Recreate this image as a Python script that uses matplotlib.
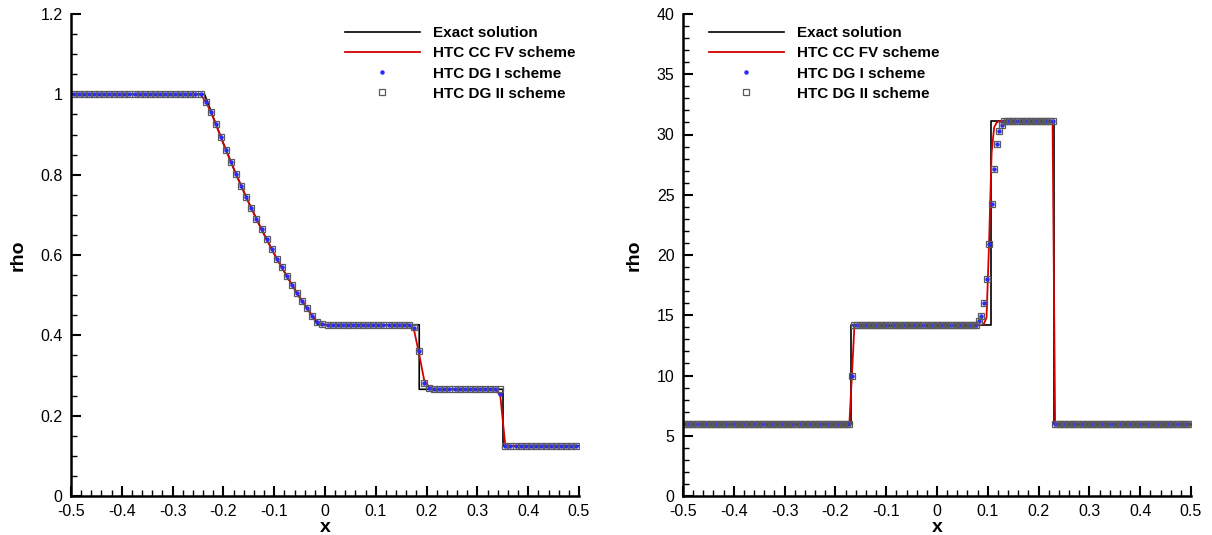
import numpy as np
import matplotlib
matplotlib.use("Agg")
import matplotlib.pyplot as plt
from matplotlib.ticker import MultipleLocator, FuncFormatter

plt.rcParams['font.family'] = ['Liberation Sans', 'DejaVu Sans']
plt.rcParams['axes.unicode_minus'] = False

# ---- left panel (Sod problem), 100 cells ----
x_left = np.round(np.arange(-0.495, 0.5, 0.01), 4)

rare_dg = [0.982, 0.957, 0.926, 0.894, 0.862, 0.831, 0.801, 0.772, 0.744, 0.716,
           0.690, 0.664, 0.639, 0.615, 0.591, 0.569, 0.547, 0.526, 0.505, 0.486,
           0.467, 0.449, 0.434, 0.428]
rho_dg1_left = np.concatenate([np.full(26, 1.0), rare_dg, np.full(17, 0.426),
                               [0.418, 0.361, 0.282, 0.268], np.full(13, 0.266),
                               [0.255], np.full(15, 0.125)])
rho_dg2_left = np.concatenate([np.full(26, 1.0), rare_dg, np.full(17, 0.426),
                               [0.420, 0.361, 0.282, 0.268], np.full(13, 0.266),
                               [0.266], np.full(15, 0.125)])
rho_fv_left = np.concatenate([np.full(26, 1.0), rare_dg, np.full(17, 0.426),
                              [0.415, 0.355, 0.290, 0.270], np.full(13, 0.266),
                              [0.250], np.full(15, 0.125)])

x_exact_left = [-0.5, -0.237, -0.225, -0.2, -0.175, -0.15, -0.125, -0.1, -0.075,
                -0.05, -0.025, -0.014, 0.1855, 0.1855, 0.3504, 0.3504, 0.5]
rho_exact_left = [1.0, 1.0, 0.960, 0.877, 0.801, 0.730, 0.664, 0.603, 0.547,
                  0.494, 0.448, 0.4263, 0.4263, 0.2656, 0.2656, 0.125, 0.125]

# ---- right panel, 200 cells ----
x_right = np.round(np.arange(-0.4975, 0.5, 0.005), 4)

trans_dg = [14.5, 14.9, 16.0, 18.0, 20.9, 24.2, 27.1, 29.2, 30.3, 30.8]
rho_dg1_right = np.concatenate([np.full(66, 6.0), [10.0], np.full(49, 14.2),
                                trans_dg, np.full(20, 31.1), np.full(54, 6.0)])
rho_dg2_right = rho_dg1_right.copy()
trans_fv = [14.2, 14.2, 14.3, 14.8, 21.0, 28.5, 30.6, 31.0, 31.1, 31.1]
rho_fv_right = np.concatenate([np.full(66, 6.0), [10.0], np.full(49, 14.2),
                               trans_fv, np.full(20, 31.1), np.full(54, 6.0)])

x_exact_right = [-0.5, -0.17, -0.17, 0.106, 0.106, 0.23, 0.23, 0.5]
rho_exact_right = [6.0, 6.0, 14.2, 14.2, 31.1, 31.1, 6.0, 6.0]

labels = ["Exact solution", "HTC CC FV scheme", "HTC DG I scheme", "HTC DG II scheme"]


def fmt(v, pos):
    return "%g" % round(v, 6)


def draw(ax, xe, re, xs, fv, dg1, dg2, ymax, ymaj, ymin, leg_x):
    ax.plot(xe, re, color="black", lw=1.2, label=labels[0])
    ax.plot(xs, fv, color="#d40000", lw=1.3, label=labels[1])
    ax.plot(xs, dg1, ls="none", marker="o", ms=2.2, mfc="#2a2aff", mec="#2a2aff",
            label=labels[2])
    ax.plot(xs, dg2, ls="none", marker="s", ms=5, mfc="none", mec="#5a5a5a",
            mew=0.9, label=labels[3])
    ax.set_xlim(-0.5, 0.5)
    ax.set_ylim(0, ymax)
    ax.xaxis.set_major_locator(MultipleLocator(0.1))
    ax.xaxis.set_minor_locator(MultipleLocator(0.02))
    ax.yaxis.set_major_locator(MultipleLocator(ymaj))
    ax.yaxis.set_minor_locator(MultipleLocator(ymin))
    ax.xaxis.set_major_formatter(FuncFormatter(fmt))
    ax.yaxis.set_major_formatter(FuncFormatter(fmt))
    for s in ["top", "right"]:
        ax.spines[s].set_visible(False)
    for s in ["left", "bottom"]:
        ax.spines[s].set_linewidth(1.8)
    ax.tick_params(which="major", direction="in", length=7, width=1.5,
                   labelsize=11.5, top=False, right=False)
    ax.tick_params(which="minor", direction="in", length=4, width=1.0,
                   top=False, right=False)
    ax.tick_params(axis="y", pad=6)
    ax.tick_params(axis="x", pad=6)
    ax.set_xlabel("x", fontsize=14, fontweight="bold", labelpad=0)
    ax.set_ylabel("rho", fontsize=14, fontweight="bold", labelpad=10)
    ax.legend(loc="upper left", bbox_to_anchor=(leg_x, 0.975), frameon=False,
              borderpad=0, borderaxespad=0, handlelength=4.9, handletextpad=0.85,
              labelspacing=0.41, prop={"weight": "bold", "size": 11})


fig = plt.figure(figsize=(12.12, 5.35), dpi=100)
ax1 = fig.add_axes([71 / 1212, 1 - 496 / 535, 508 / 1212, 482 / 535])
ax2 = fig.add_axes([683 / 1212, 1 - 496 / 535, 508 / 1212, 482 / 535])

draw(ax1, x_exact_left, rho_exact_left, x_left, rho_fv_left, rho_dg1_left,
     rho_dg2_left, 1.2, 0.2, 0.05, 0.539)
draw(ax2, x_exact_right, rho_exact_right, x_right, rho_fv_right, rho_dg1_right,
     rho_dg2_right, 40, 5, 1, 0.051)

fig.savefig("out.png", dpi=100)
